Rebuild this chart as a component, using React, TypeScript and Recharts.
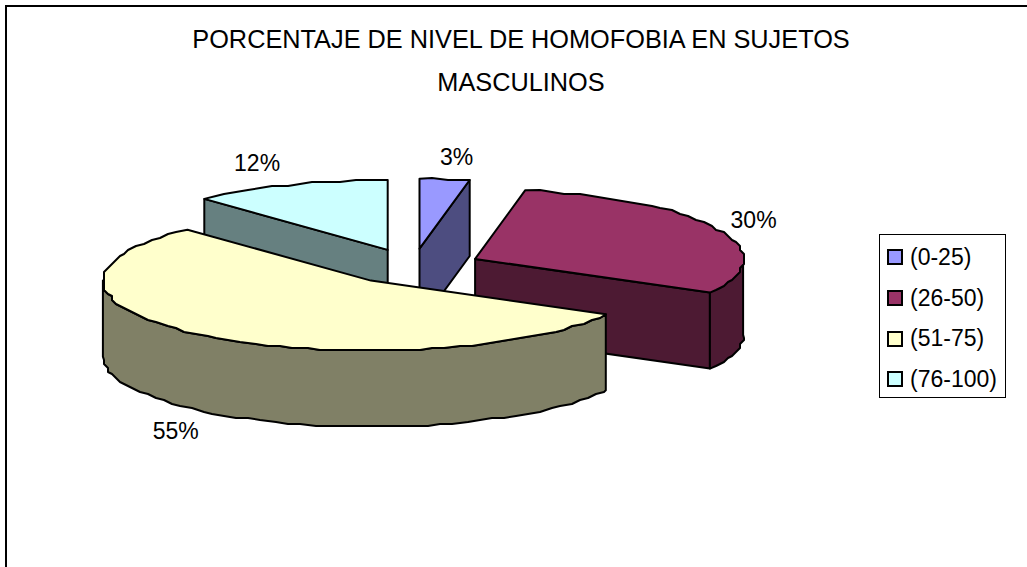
import React from 'react';
import { PieChart, Pie, Legend } from 'recharts';

const categories = ['(0-25)', '(26-50)', '(51-75)', '(76-100)'];
const values = [3, 30, 55, 12];
const colors = ['#9999FF', '#993366', '#FFFFCC', '#CCFFFF'];
const titleLines = ['PORCENTAJE DE NIVEL DE HOMOFOBIA EN SUJETOS', 'MASCULINOS'];

// label offset from the slice rim, same order as categories
const labelNudges = [
  [12, -22],
  [36, -9],
  [-31, 95],
  [-32, -22],
];

const FONT = '"Liberation Sans", Arial, sans-serif';
const TILT = 0.261;
const EXPLODE = 0.256;
const DEPTH = 76;
const RAD = Math.PI / 180;

// the back slices have to be painted first, so the table starts at the last slice
const drawOrder = [3, 0, 1, 2];
const tableData = drawOrder.map((i) => ({
  name: categories[i],
  value: values[i],
  fill: colors[i],
  idx: i,
}));
const startAt = 90 + (values[3] / values.reduce((a, b) => a + b, 0)) * 360;

const darken = (hex: string) => {
  const n = parseInt(hex.slice(1), 16);
  const c = [(n >> 16) & 255, (n >> 8) & 255, n & 255].map((v) =>
    Math.round(v / 2).toString(16).padStart(2, '0'),
  );
  return `#${c.join('')}`;
};

const apexOf = (cx: number, cy: number, r: number, mid: number) => [
  cx + EXPLODE * r * Math.cos(mid * RAD),
  cy - EXPLODE * r * TILT * Math.sin(mid * RAD),
];

// rough arc, snapped to a coarse grid to get the wavy outline of the original
const arcPoints = (ax: number, ay: number, r: number, from: number, to: number, dy = 0) => {
  const pts: number[][] = [];
  const at = (a: number) => [ax + r * Math.cos(a * RAD), ay - r * TILT * Math.sin(a * RAD) + dy];
  const step = from > to ? -3 : 3;
  pts.push(at(from));
  for (let a = from + step; step < 0 ? a > to : a < to; a += step) {
    const [x, y] = at(a);
    pts.push([Math.round(x / 4) * 4, Math.round(y / 2) * 2]);
  }
  pts.push(at(to));
  return pts;
};

const toPath = (pts: number[][]) =>
  `M${pts.map((p) => `${p[0].toFixed(1)},${p[1].toFixed(1)}`).join('L')}Z`;

const stroke = { stroke: '#000', strokeWidth: 2, strokeLinejoin: 'round' as const };

const Slice3D = (props: any) => {
  const { cx, cy, outerRadius: r, startAngle, endAngle, fill } = props;
  const mid = (startAngle + endAngle) / 2;
  const [ax, ay] = apexOf(cx, cy, r, mid);
  const side = darken(fill);
  const top = arcPoints(ax, ay, r, startAngle, endAngle);
  const first = top[0];
  const last = top[top.length - 1];

  const wall = (p: number[]) =>
    toPath([[ax, ay], p, [p[0], p[1] + DEPTH], [ax, ay + DEPTH]]);

  const hi = Math.min(startAngle, 0);
  const lo = Math.max(endAngle, -180);

  return (
    <g>
      {Math.cos(startAngle * RAD) < -0.001 && <path d={wall(first)} fill={side} {...stroke} />}
      {Math.cos(endAngle * RAD) > 0.001 && <path d={wall(last)} fill={side} {...stroke} />}
      {hi > lo && (
        <path
          d={toPath([
            ...arcPoints(ax, ay, r, hi, lo),
            ...arcPoints(ax, ay, r, lo, hi, DEPTH),
          ])}
          fill={side}
          {...stroke}
        />
      )}
      <path d={toPath([[ax, ay], ...top])} fill={fill} {...stroke} />
    </g>
  );
};

const renderLabel = (props: any) => {
  const { cx, cy, outerRadius: r, midAngle, percent, payload } = props;
  const [ax, ay] = apexOf(cx, cy, r, midAngle);
  const idx = payload.idx ?? props.idx;
  const [dx, dy] = labelNudges[idx];
  return (
    <text
      x={ax + r * Math.cos(midAngle * RAD) + dx}
      y={ay - r * TILT * Math.sin(midAngle * RAD) + dy}
      textAnchor="middle"
      dominantBaseline="central"
      fontFamily={FONT}
      fontSize={23}
      fill="#000"
    >
      {`${Math.round(percent * 100)}%`}
    </text>
  );
};

const LegendBox = ({ payload }: any) => {
  const items = categories.map((c) => payload?.find((p: any) => p.value === c)).filter(Boolean);
  return (
    <div
      style={{
        width: 127,
        height: 164,
        boxSizing: 'border-box',
        border: '1.5px solid #000',
        background: '#fff',
        fontFamily: FONT,
        fontSize: 23,
        paddingTop: 2,
      }}
    >
      {items.map((it: any) => (
        <div key={it.value} style={{ display: 'flex', alignItems: 'center', height: 40.7 }}>
          <span
            style={{
              width: 12,
              height: 12,
              marginLeft: 7,
              marginRight: 7,
              border: '2px solid #000',
              background: it.color,
            }}
          />
          <span>{it.value}</span>
        </div>
      ))}
    </div>
  );
};

export default function App() {
  return (
    <div style={{ position: 'absolute', left: 0, top: 0 }}>
      <PieChart width={1027} height={567} margin={{ top: 0, right: 0, bottom: 0, left: 0 }}>
        <path d="M6,567V6H1027" fill="none" stroke="#000" strokeWidth={2} />
        {titleLines.map((line, i) => (
          <text
            key={line}
            x={521}
            y={39 + i * 43}
            textAnchor="middle"
            dominantBaseline="central"
            fontFamily={FONT}
            fontSize={25.3}
            fill="#000"
          >
            {line}
          </text>
        ))}
        <Pie
          data={tableData}
          dataKey="value"
          nameKey="name"
          cx={413}
          cy={266.5}
          outerRadius={268}
          startAngle={startAt}
          endAngle={startAt - 360}
          stroke="none"
          shape={Slice3D}
          label={renderLabel}
          labelLine={false}
          isAnimationActive={false}
        />
        <Legend
          layout="vertical"
          content={<LegendBox />}
          wrapperStyle={{ position: 'absolute', left: 879, top: 234, width: 127 }}
        />
      </PieChart>
    </div>
  );
}
